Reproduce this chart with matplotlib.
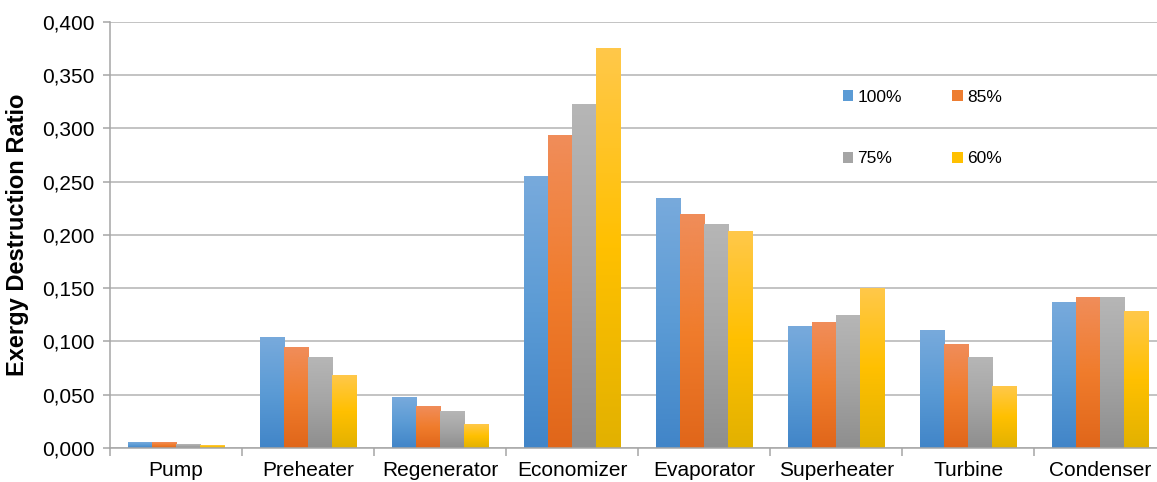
import numpy as np
import matplotlib
matplotlib.use("Agg")
import matplotlib.pyplot as plt
from matplotlib.colors import LinearSegmentedColormap
from matplotlib.patches import Patch
from matplotlib.ticker import FuncFormatter, FixedLocator

plt.rcParams["font.family"] = ["Liberation Sans", "DejaVu Sans"]

components = ["Pump", "Preheater", "Regenerator", "Economizer",
              "Evaporator", "Superheater", "Turbine", "Condenser"]
load_labels = ["100%", "85%", "75%", "60%"]

ratio_100 = [0.0047, 0.104, 0.047, 0.2545, 0.2338, 0.1136, 0.110, 0.137]
ratio_85 = [0.0047, 0.094, 0.039, 0.293, 0.2188, 0.1174, 0.0967, 0.141]
ratio_75 = [0.0035, 0.085, 0.034, 0.322, 0.2094, 0.124, 0.0845, 0.141]
ratio_60 = [0.0022, 0.068, 0.0216, 0.3746, 0.2028, 0.150, 0.058, 0.128]
series = [ratio_100, ratio_85, ratio_75, ratio_60]

# (top, middle, bottom) shades for each series gradient
shades = [
    ("#78aadc", "#5b9bd5", "#4185c8"),
    ("#f08d5a", "#f07c2c", "#e0661a"),
    ("#b6b6b6", "#a5a5a5", "#8e8e8e"),
    ("#ffc84a", "#ffc000", "#e2b100"),
]
legend_colors = ["#5b9bd5", "#ed7d31", "#a5a5a5", "#ffc000"]

fig = plt.figure(figsize=(11.57, 4.82), dpi=100)
ax = fig.add_axes([0.0951, 0.0705, 0.9049, 0.884])

x = np.arange(len(components))
width = 0.182
grad = np.linspace(0, 1, 256).reshape(-1, 1)

for i, vals in enumerate(series):
    cmap = LinearSegmentedColormap.from_list(f"g{i}", list(shades[i]))
    bars = ax.bar(x + (i - 1.5) * width, vals, width, color="none", linewidth=0, zorder=2)
    for b in bars:
        x0, y0 = b.get_x(), b.get_y()
        # row 0 of the gradient (light shade) sits at the bar top
        ax.imshow(grad, cmap=cmap, aspect="auto", interpolation="bilinear",
                  extent=(x0, x0 + b.get_width(), y0, y0 + b.get_height()),
                  origin="upper", zorder=2)

ax.set_xlim(-0.5, 7.43)
ax.set_ylim(0, 0.4)
ax.set_yticks(np.arange(0, 0.401, 0.05))
ax.yaxis.set_major_formatter(FuncFormatter(lambda v, p: f"{v:.3f}".replace(".", ",")))
ax.set_xticks(x)
ax.set_xticklabels(components)
ax.xaxis.set_minor_locator(FixedLocator(np.arange(-0.5, 8, 1.0)))

ax.grid(axis="y", color="#b3b3b3", linewidth=1.1, zorder=0)
ax.set_axisbelow(True)
for s in ["top", "right"]:
    ax.spines[s].set_visible(False)
for s in ["left", "bottom"]:
    ax.spines[s].set_color("#a6a6a6")
    ax.spines[s].set_linewidth(1.1)

ax.tick_params(axis="y", length=5, color="#a6a6a6", width=1.1, labelsize=15, pad=6)
ax.tick_params(axis="x", which="major", length=0, labelsize=15, pad=9)
ax.tick_params(axis="x", which="minor", length=6, color="#a6a6a6", width=1.1)

ax.set_ylabel("Exergy Destruction Ratio", fontsize=17, fontweight="bold")
ax.yaxis.set_label_coords(-0.077, 0.5)

# legend laid out row by row: 100% 85% / 75% 60%
order = [0, 2, 1, 3]
handles = [Patch(facecolor=legend_colors[k], edgecolor="none") for k in order]
labels = [load_labels[k] for k in order]
ax.legend(handles, labels, ncol=2, frameon=False, fontsize=12.5,
          handlelength=0.6, handleheight=0.6, handletextpad=0.25,
          labelspacing=2.7, columnspacing=2.9,
          loc="upper left", bbox_to_anchor=(0.685, 0.878))

fig.savefig("out.png", dpi=100)
